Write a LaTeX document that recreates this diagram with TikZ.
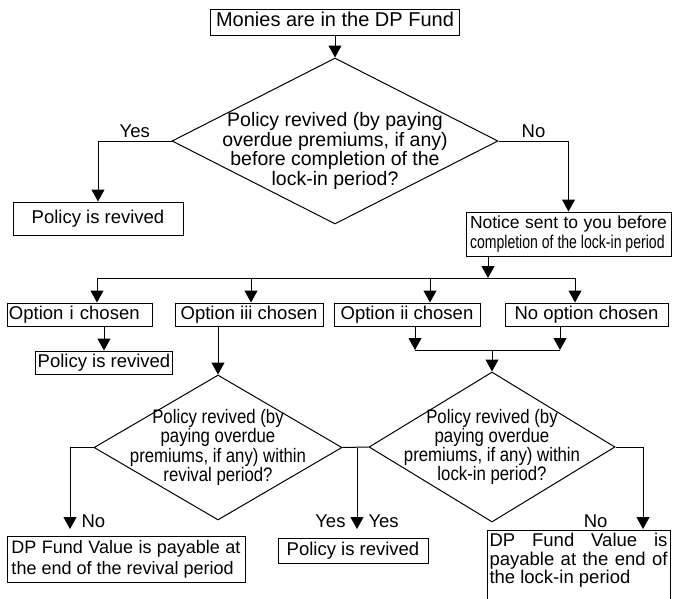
\documentclass[tikz,border=0pt]{standalone}
\usepackage{fontspec}
\setmainfont{Liberation Sans}
\newfontfamily\narrowfont[FakeStretch=0.86]{Liberation Sans}
\newfontfamily\tightfont[FakeStretch=0.76]{Liberation Sans}
\usetikzlibrary{shapes.geometric,arrows.meta}

\begin{document}
\begin{tikzpicture}[x=1pt,y=-1pt,line width=1pt,>={Triangle[width=13pt,length=12pt]},
  onebox/.style={draw,inner xsep=2pt,inner ysep=0pt,text height=13pt,text depth=4pt,font=\fontsize{18.5}{19.5}\selectfont},
  textbox/.style={draw,inner xsep=4pt,inner ysep=3pt,align=justify,font=\fontsize{18}{21}\selectfont},
  decision/.style={draw,diamond,inner sep=0pt},
  question/.style={align=center,font=\fontsize{19.5}{17.8}\narrowfont},
  answer/.style={inner sep=3pt,font=\fontsize{18.5}{19.5}\selectfont}]
  \path[use as bounding box,fill=white] (0,0) rectangle (674,598);
  \clip (0,0) rectangle (674,598);

  % first question
  \node[onebox,minimum width=249pt,minimum height=26pt,font=\fontsize{20}{21}\selectfont] (fund) at (335,22) {Monies are in the DP Fund};
  \node[decision,minimum width=326pt,minimum height=166pt,
    label={[question,yshift=-10pt,font=\fontsize{19.5}{19.4}\selectfont]center:{Policy revived (by paying\\overdue premiums, if any)\\before completion of the\\lock-in period?}}] (lockin) at (335,141) {};
  \node[onebox,minimum width=170pt,minimum height=33pt] (revA) at (98,218.5) {Policy is revived};
  \node[textbox,text width=197pt,minimum height=44pt,font=\fontsize{17.5}{19.5}\selectfont] (notice) at (568.5,234)
    {Notice sent to you before\linebreak{\fontsize{18.5}{19.5}\tightfont completion of the lock-in period}};

  \coordinate (split) at (488,278);
  \coordinate (b1) at (97,278);
  \coordinate (b2) at (251,278);
  \coordinate (b3) at (430,278);
  \coordinate (b4) at (575,278);

  % options
  \node[onebox,minimum height=23pt,text width=141pt,align=left] (opt1) at (79.5,314.5) {Option i chosen};
  \node[onebox,minimum width=148pt,minimum height=23pt] (opt3) at (249,314.5) {Option iii chosen};
  \node[onebox,minimum width=146pt,minimum height=23pt] (opt2) at (407,314.5) {Option ii chosen};
  \node[onebox,minimum width=163pt,minimum height=23pt] (optno) at (586.5,314.5) {No option chosen};
  \node[onebox,minimum width=136pt,minimum height=23pt] (revB) at (104,362.5) {Policy is revived};

  \coordinate (j2) at (415,350);
  \coordinate (j4) at (560,350);

  % second questions
  \node[decision,minimum width=248pt,minimum height=145pt,
    label={[question]center:{Policy revived (by\\paying overdue\\premiums, if any) within\\revival period?}}] (revival) at (218,447.5) {};
  \node[decision,minimum width=246pt,minimum height=150pt,
    label={[question]center:{Policy revived (by\\paying overdue\\premiums, if any) within\\lock-in period?}}] (within) at (492,447) {};

  \coordinate (tipA) at (70,529);
  \coordinate (tipB) at (357,529);
  \coordinate (tipC) at (643,529);

  \node[textbox,text width=229pt,inner xsep=4.5pt,minimum height=46pt] (valA) at (126,559)
    {DP Fund Value is payable at\linebreak the end of the revival period};
  \node[onebox,minimum width=150pt,minimum height=25pt] (revC) at (353,550.5) {Policy is revived};
  \node[textbox,anchor=north,text width=178pt,inner xsep=2.5pt,text depth=56pt,font=\fontsize{18.5}{18.5}\selectfont] (valB) at (578.5,530)
    {DP Fund Value is\linebreak payable at the end of\linebreak the lock-in period};

  % connectors
  \draw[->] (fund) -- (lockin);
  \draw[->] (lockin.west) -| (revA.north) node[answer,pos=0.25,above] {Yes};
  \draw[->] (lockin.east) -| (notice.north) node[answer,pos=0.25,above] {No};
  \draw[->] (notice.south -| split) -- (split);
  \draw (b1) -- (b4);
  \foreach \bus/\choice in {b1/opt1,b2/opt3,b3/opt2,b4/optno}
    \draw[->] (\bus) -- (\bus |- \choice.north);
  \draw[->] (revB.north |- opt1.south) -- (revB.north);
  \draw[->] (revival.north |- opt3.south) -- (revival.north);
  \draw[->] (opt2.south -| j2) -- (j2);
  \draw[->] (optno.south -| j4) -- (j4);
  \draw (j2) -- (j4);
  \draw[->] (within.north |- j2) -- (within.north);
  \draw[->] (revival.west) -| (tipA) node[answer,right,xshift=8pt,yshift=8pt] {No};
  \draw (revival.east) -- (within.west);
  \draw[->] (tipB |- revival.east) -- (tipB) node[answer,left,xshift=-8pt,yshift=8pt] {Yes}
    node[answer,right,xshift=8pt,yshift=8pt] {Yes};
  \draw[->] (within.east) -| (tipC) node[answer,left,xshift=-32pt,yshift=8pt] {No};
\end{tikzpicture}
\end{document}
